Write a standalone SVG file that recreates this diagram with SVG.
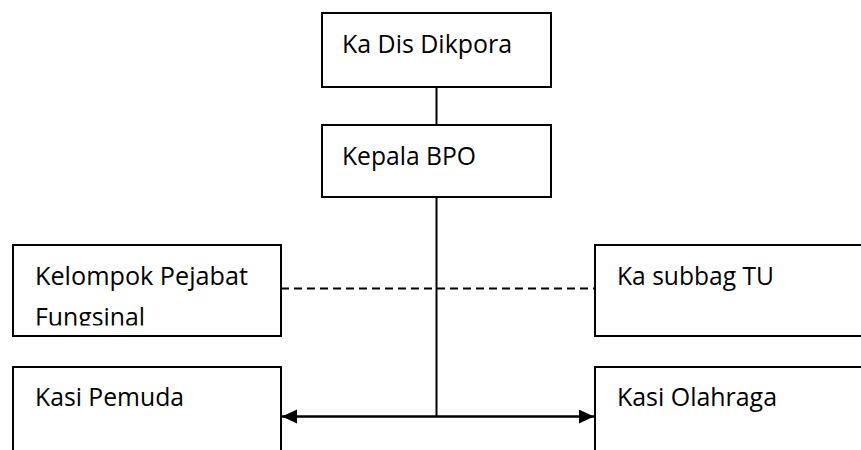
<svg xmlns="http://www.w3.org/2000/svg" width="861" height="450" viewBox="0 0 861 450">
  <style>
    .box { fill: #ffffff; stroke: #000000; stroke-width: 2; }
    .lbl { font-family: "Open Sans", "Noto Sans", "Liberation Sans", sans-serif; font-size: 26px; fill: #000000; }
    .ln { stroke: #000000; stroke-width: 2; fill: none; }
  </style>
  <defs>
    <marker id="ah" markerUnits="userSpaceOnUse" markerWidth="16" markerHeight="16" refX="15" refY="7" orient="auto-start-reverse">
      <path d="M0,0 L15,7 L0,14 Z" fill="#000000"/>
    </marker>
    <clipPath id="clipKPF">
      <rect x="14" y="246" width="266" height="79.5"/>
    </clipPath>
  </defs>
  <rect width="861" height="450" fill="#ffffff"/>

  <g id="connectors">
    <line class="ln" x1="436.5" y1="87" x2="436.5" y2="125"/>
    <line class="ln" x1="436.5" y1="197" x2="436.5" y2="417"/>
    <line class="ln" x1="281" y1="288.5" x2="595" y2="288.5" stroke-dasharray="8,5"/>
    <line x1="282" y1="416.5" x2="594" y2="416.5" stroke="#000000" stroke-width="2.5" marker-start="url(#ah)" marker-end="url(#ah)"/>
  </g>

  <g id="ka-dis-dikpora">
    <rect class="box" x="322" y="13" width="229" height="74"/>
    <text class="lbl" x="342" y="53" textLength="170" lengthAdjust="spacingAndGlyphs">Ka Dis Dikpora</text>
  </g>

  <g id="kepala-bpo">
    <rect class="box" x="322" y="125" width="229" height="72"/>
    <text class="lbl" x="342" y="165" textLength="134" lengthAdjust="spacingAndGlyphs">Kepala BPO</text>
  </g>

  <g id="kelompok-pejabat-fungsinal">
    <rect class="box" x="13" y="245" width="268" height="91"/>
    <g clip-path="url(#clipKPF)">
      <text class="lbl" x="35" y="285" textLength="213" lengthAdjust="spacingAndGlyphs">Kelompok Pejabat</text>
      <text class="lbl" x="35" y="326" textLength="110" lengthAdjust="spacingAndGlyphs">Fungsinal</text>
    </g>
  </g>

  <g id="ka-subbag-tu">
    <rect class="box" x="595" y="245" width="290" height="91"/>
    <text class="lbl" x="617" y="285" textLength="157" lengthAdjust="spacingAndGlyphs">Ka subbag TU</text>
  </g>

  <g id="kasi-pemuda">
    <rect class="box" x="13" y="367" width="268" height="100"/>
    <text class="lbl" x="35" y="406" textLength="149" lengthAdjust="spacingAndGlyphs">Kasi Pemuda</text>
  </g>

  <g id="kasi-olahraga">
    <rect class="box" x="595" y="367" width="290" height="100"/>
    <text class="lbl" x="617" y="406" textLength="160" lengthAdjust="spacingAndGlyphs">Kasi Olahraga</text>
  </g>
</svg>
